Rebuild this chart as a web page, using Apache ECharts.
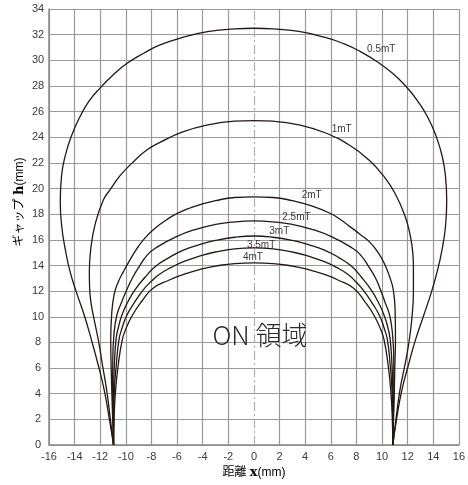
<!DOCTYPE html>
<html><head><meta charset="utf-8">
<script src="https://cdn.jsdelivr.net/npm/echarts@6/dist/echarts.min.js"></script>
<style>html,body{margin:0;padding:0;background:#fff}#c{width:468px;height:485px}</style>
</head><body><div id="c"></div>
<script>
// ---- data ([x mm, gap mm]) ----
const curveNames = ['0.5mT', '1mT', '2mT', '2.5mT', '3mT', '3.5mT', '4mT'];
const curve05 = [[-10.96,0],[-11.3,2.1],[-11.68,4.24],[-12.15,6.2],[-12.66,8.1],[-13.24,10.1],[-13.89,12.0],[-14.35,13.5],[-14.7,15.1],[-15.0,17.0],[-15.12,19.0],[-15.02,21.0],[-14.72,22.6],[-14.25,24.1],[-13.58,25.6],[-12.85,26.85],[-12.0,27.85],[-11.0,28.85],[-9.93,29.75],[-8.6,30.55],[-7.33,31.2],[-5.5,31.8],[-3.5,32.25],[-1.5,32.45],[0,32.5],
  [1.5,32.45],[3.5,32.25],[5.5,31.8],[7,31.3],[8.28,30.7],[9.6,29.9],[10.8,29.0],[11.93,27.9],[12.8,26.8],[13.6,25.5],[14.27,23.95],[14.7,22.5],[14.95,21.0],[15.05,19.0],[14.95,17.0],[14.66,15.1],[14.3,13.5],[13.88,12.0],[13.25,10.1],[12.58,8.1],[12.05,6.2],[11.54,4.24],[11.15,2.1],[10.84,0]];
const curve1 = [[-10.96,0],[-11.22,2.1],[-11.5,4.3],[-11.82,6.2],[-12.15,8.2],[-12.54,10.1],[-12.75,11.3],[-12.83,12.3],[-12.85,13.5],[-12.75,15.2],[-12.4,17.2],[-11.76,19.1],[-11.2,19.95],[-10.45,21.0],[-9.5,22.0],[-8.37,23.0],[-7.33,23.6],[-5.5,24.43],[-3.5,24.98],[-1.5,25.25],[0,25.3],
  [1.5,25.25],[3.5,24.97],[5.5,24.37],[7.5,23.35],[9.0,22.2],[10.1,21.0],[11.0,19.65],[11.8,17.84],[12.2,16.34],[12.4,15.0],[12.45,13.9],[12.45,12.0],[12.35,10.1],[12.13,8.2],[11.78,6.2],[11.4,4.3],[11.1,2.1],[10.84,0]];
const curve2 = [[-10.96,0],[-11.03,2.1],[-11.1,4.3],[-11.15,6.2],[-11.18,8.2],[-11.1,10.3],[-10.9,11.8],[-10.6,12.7],[-10.2,13.5],[-9.7,14.4],[-9.15,15.3],[-8.5,16.15],[-7.72,16.9],[-6.85,17.55],[-5.9,18.1],[-4.5,18.65],[-3,19.05],[-1.5,19.3],[0,19.35],
  [1.5,19.3],[3,19.05],[4.5,18.65],[5.94,18.07],[6.75,17.58],[7.5,17.03],[8.3,16.42],[9.06,15.8],[9.7,15.0],[10.25,14.0],[10.6,13.1],[10.88,12.1],[11.02,10.5],[11.05,8.2],[11.0,6.2],[10.96,4.3],[10.9,2.1],[10.84,0]];
const curve25 = [[-10.96,0],[-11.0,2.1],[-11.03,4.3],[-11.02,6.5],[-10.93,8.6],[-10.71,10.1],[-10.35,11.1],[-9.93,12.1],[-9.5,13.0],[-9.06,13.75],[-8.3,14.85],[-7.5,15.47],[-6.05,16.25],[-4.6,16.8],[-3,17.2],[-1.5,17.4],[0,17.47],
  [1.5,17.4],[3,17.2],[4.6,16.8],[6.05,16.25],[7.5,15.47],[8.3,14.85],[9.06,13.75],[9.5,13.0],[9.84,12.2],[10.25,11.1],[10.6,10.1],[10.82,8.6],[10.92,6.5],[10.92,4.3],[10.88,2.1],[10.84,0]];
const curve3 = [[-10.96,0],[-10.96,2.1],[-10.95,4.3],[-10.9,6.2],[-10.77,8.2],[-10.6,9.1],[-10.32,10.1],[-9.85,11.15],[-9.29,12.1],[-8.5,13.08],[-7.72,13.9],[-6.6,14.63],[-5.5,15.2],[-4.25,15.62],[-3,15.95],[-1.5,16.2],[0,16.3],
  [1.5,16.2],[3,15.95],[4.25,15.62],[5.5,15.2],[6.6,14.63],[7.6,13.95],[8.4,13.08],[9.15,12.1],[9.7,11.15],[10.17,10.1],[10.47,9.1],[10.64,8.2],[10.78,6.2],[10.84,4.3],[10.85,2.1],[10.84,0]];
const curve35 = [[-10.96,0],[-10.95,2.1],[-10.9,4.3],[-10.75,6.2],[-10.54,8.2],[-10.3,9.1],[-9.93,10.1],[-9.35,11.08],[-8.64,12.1],[-8.05,12.73],[-7.4,13.3],[-6.45,13.85],[-5.5,14.3],[-4.25,14.72],[-3,15.05],[-1.5,15.3],[0,15.37],
  [1.5,15.3],[3,15.05],[4.25,14.72],[5.5,14.3],[6.45,13.85],[7.35,13.3],[7.95,12.73],[8.52,12.1],[9.22,11.08],[9.8,10.1],[10.17,9.1],[10.42,8.2],[10.64,6.2],[10.78,4.3],[10.83,2.1],[10.84,0]];
const curve4 = [[-10.96,0],[-10.92,2.1],[-10.8,4.3],[-10.6,6.2],[-10.28,8.2],[-10.0,9.05],[-9.5,10.1],[-8.8,11.15],[-7.9,12.2],[-6.65,12.85],[-5.5,13.3],[-4.25,13.68],[-3,13.95],[-1.5,14.15],[0,14.2],
  [1.5,14.15],[3,13.95],[4.25,13.68],[5.5,13.3],[6.6,12.85],[7.8,12.2],[8.68,11.15],[9.38,10.1],[9.88,9.05],[10.16,8.2],[10.48,6.2],[10.68,4.3],[10.8,2.1],[10.84,0]];
const curves = [curve05, curve1, curve2, curve25, curve3, curve35, curve4];
const xTickValues = [-16,-14,-12,-10,-8,-6,-4,-2,0,2,4,6,8,10,12,14,16];
const yTickValues = [0,2,4,6,8,10,12,14,16,18,20,22,24,26,28,30,32,34];
const regionText = 'ON 領域';
const xAxisTitle = '距離 ';
const yAxisTitle = 'ギャップ ';

// ---- chart ----
const chart = echarts.init(document.getElementById('c'), null, {renderer: 'canvas'});
const labelAt = [[8.83,30.85],[6.07,24.65],[3.73,19.5],[2.21,17.75],[1.2,16.7],[-0.55,15.6],[-0.86,14.66]];
const lineColor = '#231815';
const gridColors = xTickValues.map(v => v === 0 ? 'rgba(0,0,0,0)' : '#999');
const baseFont = 'Liberation Sans, Noto Sans CJK JP, sans-serif';

const series = curves.map((pts, i) => ({
  name: curveNames[i],
  type: 'line',
  data: pts,
  smooth: 0.5,
  showSymbol: false,
  symbol: 'none',
  lineStyle: {color: lineColor, width: 1.3},
  z: 5,
  markPoint: {
    symbol: 'circle', symbolSize: 0, silent: true,
    label: {show: true, position: 'right', distance: 0, formatter: curveNames[i],
      color: '#3a3a3a', fontSize: 10, fontFamily: baseFont},
    data: [{coord: labelAt[i]}]
  }
}));

series.push({
  type: 'line', data: [], silent: true,
  markLine: {
    symbol: 'none', silent: true, label: {show: false},
    lineStyle: {color: '#b0b0b0', width: 1.2, type: [9, 3, 2, 3]},
    data: [{xAxis: 0}]
  },
  markPoint: {
    symbol: 'circle', symbolSize: 0, silent: true,
    label: {show: true, position: 'inside', formatter: regionText, color: '#2a2a2a',
      fontSize: 26, fontFamily: 'Noto Sans CJK JP, sans-serif', fontWeight: 300},
    data: [{coord: [0.47, 8.6]}]
  }
});

chart.setOption({
  animation: false,
  backgroundColor: '#fff',
  grid: {left: 49, right: 9, top: 9, bottom: 40, containLabel: false},
  xAxis: {
    type: 'value', min: -16, max: 16, interval: 2,
    axisLine: {show: true, onZero: false, lineStyle: {color: '#888', width: 1.5}},
    axisTick: {show: false},
    axisLabel: {color: '#3a3a3a', fontSize: 11, margin: 6, fontFamily: baseFont,
      showMinLabel: true, showMaxLabel: true},
    splitLine: {show: true, lineStyle: {color: gridColors, width: 1.2}}
  },
  yAxis: {
    type: 'value', min: 0, max: 34, interval: 2,
    axisLine: {show: true, onZero: false, lineStyle: {color: '#888', width: 1.5}},
    axisTick: {show: false},
    axisLabel: {color: '#3a3a3a', fontSize: 11, margin: 11, align: 'center', fontFamily: baseFont},
    splitLine: {show: true, lineStyle: {color: '#999', width: 1.2}}
  },
  graphic: [
    {type: 'text', x: 254, y: 473, z: 10,
      style: {text: '{a|' + xAxisTitle + '}{b|x}{a|(mm)}', align: 'center', verticalAlign: 'middle',
        rich: {a: {fontSize: 12, fontFamily: baseFont, color: '#2a2a2a'},
               b: {fontSize: 13, fontFamily: 'DejaVu Serif, serif', fontWeight: 'bold', color: '#2a2a2a'}}}},
    {type: 'text', x: 20, y: 202, rotation: Math.PI / 2, z: 10,
      style: {text: '{a|' + yAxisTitle + '}{b|h}{a|(mm)}', align: 'center', verticalAlign: 'middle',
        rich: {a: {fontSize: 12, fontFamily: baseFont, color: '#2a2a2a'},
               b: {fontSize: 13, fontFamily: 'DejaVu Serif, serif', fontWeight: 'bold', color: '#2a2a2a'}}}}
  ],
  series: series
});
</script></body></html>
